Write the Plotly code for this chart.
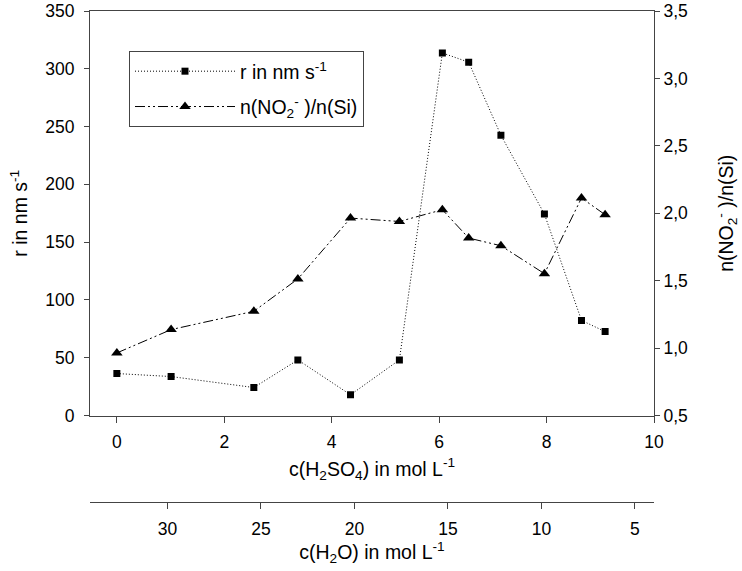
import plotly.graph_objects as go

c_h2so4 = [0, 1.01, 2.55, 3.37, 4.35, 5.26, 6.06, 6.55, 7.15, 7.96, 8.65, 9.09]
r_rate = [36.3, 33.7, 24.2, 48.1, 17.9, 48.1, 313.7, 305.7, 242.5, 174.3, 82.3, 72.6]
n_ratio = [0.964, 1.137, 1.273, 1.513, 1.964, 1.939, 2.026, 1.816, 1.759, 1.552, 2.113, 1.989]

FONT = "Liberation Sans, Arial, sans-serif"
TICK = 17.5
TITLE = 19.5
W, H = 742, 571
L, R, T, B = 90, 88, 11, 60
paper_top = T
paper_bottom = H - B
paper_h = paper_bottom - paper_top
paper_w = W - L - R
y_main_bottom = 415.5
y_second_axis = 501.7
dom0 = (paper_bottom - y_main_bottom) / paper_h
pos2 = (paper_bottom - y_second_axis) / paper_h

fig = go.Figure()
fig.add_trace(go.Scatter(
    x=c_h2so4, y=r_rate, name="r in nm s<sup>-1</sup>",
    mode="lines+markers", legendgroup="a",
    line=dict(color="black", width=1, dash="1px,2px"),
    marker=dict(symbol="square", size=7, color="black"),
    xaxis="x", yaxis="y"))
fig.add_trace(go.Scatter(
    x=c_h2so4, y=n_ratio, name="n(NO<sub>2</sub><sup>-</sup> )/n(Si)",
    mode="lines+markers", legendgroup="b",
    line=dict(color="black", width=1, dash="10px,3px,2px,3px,2px,3px"),
    marker=dict(symbol="triangle-up", size=10, color="black"),
    xaxis="x", yaxis="y2"))
fig.add_trace(go.Scatter(x=[], y=[], xaxis="x3", yaxis="y", showlegend=False,
                         hoverinfo="skip"))

axis_common = dict(showgrid=False, zeroline=False, showline=True, linecolor="#444",
                   linewidth=1, ticks="outside", tickcolor="#444", tickwidth=1,
                   tickfont=dict(family=FONT, size=TICK, color="black"))
title_font = dict(family=FONT, size=TITLE, color="black")

fig.update_layout(
    width=W, height=H,
    margin=dict(l=L, r=R, t=T, b=B),
    paper_bgcolor="white", plot_bgcolor="white",
    separators=", ",
    font=dict(family=FONT, size=TITLE, color="black"),
    showlegend=True,
    legend=dict(x=(129 - L) / paper_w, y=(paper_bottom - 51) / paper_h,
                xanchor="left", yanchor="top",
                bordercolor="#444", borderwidth=1, bgcolor="white",
                font=dict(family=FONT, size=TITLE, color="black"),
                itemwidth=100, traceorder="grouped", tracegroupgap=7),
    xaxis=dict(range=[-0.5, 10], dtick=2, tick0=0, ticklen=6, mirror=True,
               ticklabelstandoff=4,
               title=dict(text="c(H<sub>2</sub>SO<sub>4</sub>) in mol L<sup>-1</sup>",
                          font=title_font, standoff=11),
               automargin=False, **axis_common),
    yaxis=dict(range=[0, 350], dtick=50, ticklen=5, domain=[dom0, 1],
               ticklabelstandoff=6,
               title=dict(text="r in nm s<sup>-1</sup>", font=title_font, standoff=12),
               automargin=False, **axis_common),
    yaxis2=dict(range=[0.5, 3.5], dtick=0.5, tickformat=".1f", ticklen=5,
                overlaying="y", side="right", domain=[dom0, 1],
                title=dict(text="n(NO<sub>2</sub><sup>-</sup> )/n(Si)",
                           font=title_font, standoff=32),
                automargin=False, **axis_common),
    xaxis3=dict(range=[34.14, 3.98], dtick=5, tick0=0, ticklen=6,
                overlaying="x", anchor="free", position=pos2,
                ticklabelstandoff=5,
                title=dict(text="c(H<sub>2</sub>O) in mol L<sup>-1</sup>",
                           font=title_font, standoff=4),
                automargin=False, **axis_common),
)

fig.write_html("out.html", config={"displayModeBar": False},
               post_script="document.body.style.margin='0';document.body.style.overflow='hidden';")
